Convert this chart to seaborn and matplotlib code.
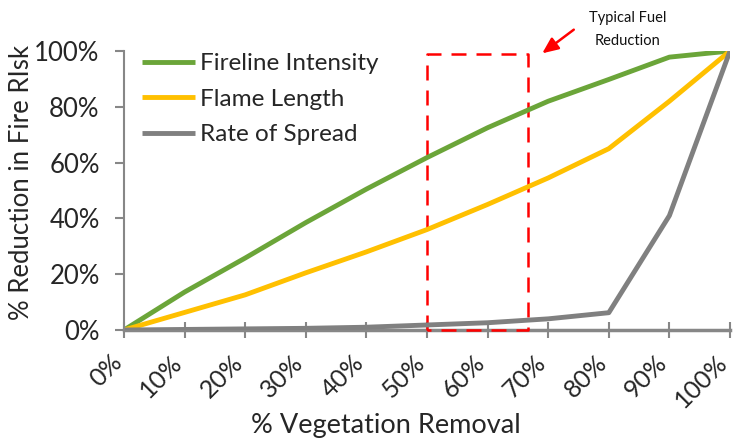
import matplotlib
matplotlib.use("Agg")
import matplotlib.pyplot as plt
import matplotlib.transforms as mtransforms
import seaborn as sns
import pandas as pd

removal = [0, 10, 20, 30, 40, 50, 60, 70, 80, 90, 100]
fireline_intensity = [0, 13.6, 25.8, 38.5, 50.5, 61.8, 72.5, 82, 89.8, 97.8, 100]
flame_length = [0, 6.3, 12.6, 20.5, 28, 36, 45, 54.5, 65, 82, 100]
rate_of_spread = [0, 0.2, 0.4, 0.6, 1.0, 1.8, 2.6, 4.0, 6.2, 41, 100]
series_names = ["Fireline Intensity", "Flame Length", "Rate of Spread"]
colors = ["#6BA539", "#FFC000", "#808080"]
x_ticks = [0, 10, 20, 30, 40, 50, 60, 70, 80, 90, 100]
y_ticks = [0, 20, 40, 60, 80, 100]
box_x = [50, 66.7]
box_y = [0, 99]

sns.set_theme(style="white")
plt.rcParams["font.family"] = ["Lato", "DejaVu Sans"]

df = pd.DataFrame({
    "x": removal * 3,
    "y": fireline_intensity + flame_length + rate_of_spread,
    "series": [series_names[0]] * 11 + [series_names[1]] * 11 + [series_names[2]] * 11,
})

fig = plt.figure(figsize=(7.36, 4.41), dpi=100)
ax = fig.add_axes([124 / 736, 1 - 330 / 441, (730 - 124) / 736, (330 - 51) / 441])

sns.lineplot(data=df, x="x", y="y", hue="series", palette=colors, linewidth=3.5,
             ax=ax, legend=True, solid_capstyle="butt")

# red dashed box
ax.plot([box_x[0], box_x[0], box_x[1], box_x[1], box_x[0]],
        [box_y[0], box_y[1], box_y[1], box_y[0], box_y[0]],
        color="#FF0000", linewidth=1.8, linestyle=(0, (6, 4)), clip_on=False, zorder=1)

ax.set_xlim(0, 100)
ax.set_ylim(0, 100)
ax.set_xticks(x_ticks)
ax.set_yticks(y_ticks)
ax.tick_params(axis="x", bottom=True, direction="inout", length=11, width=1.5,
               color="#878787", pad=15)
ax.tick_params(axis="y", left=True, direction="out", length=6.5, width=1.5,
               color="#878787", pad=11)
ax.set_xticklabels([f"{v}%" for v in x_ticks], rotation=45, ha="right", va="center",
                   rotation_mode="anchor", fontsize=18)
ax.set_yticklabels([f"{v}%" for v in y_ticks], fontsize=18.5)
offset = mtransforms.ScaledTranslation(-6 / 100, 0, fig.dpi_scale_trans)
for lab in ax.get_xticklabels():
    lab.set_transform(lab.get_transform() + offset)

ax.set_xlabel("% Vegetation Removal", fontsize=19.5)
ax.xaxis.set_label_coords((386 - 124) / 606, -(425 - 330) / 279)
ax.xaxis.label.set_va("center")
ax.set_ylabel("% Reduction in Fire RIsk", fontsize=18.5)
ax.yaxis.set_label_coords(-(124 - 22) / 606, (330 - 182) / 279)
ax.yaxis.label.set_va("center")

for s in ["top", "right"]:
    ax.spines[s].set_visible(False)
ax.spines["left"].set_color("#878787")
ax.spines["left"].set_linewidth(1.5)
ax.spines["bottom"].set_color("#878787")
ax.spines["bottom"].set_linewidth(2.5)
ax.spines["bottom"].set_zorder(0)

leg = ax.legend(loc="upper left", bbox_to_anchor=(142 / 736, 1 - 53 / 441),
                bbox_transform=fig.transFigure, frameon=False, fontsize=17.5,
                handlelength=2.2, handletextpad=0.2, labelspacing=0.6,
                borderpad=0, borderaxespad=0)
for line in leg.get_lines():
    line.set_linewidth(3.5)

fig.text(628 / 736, 1 - 18 / 441, "Typical Fuel", ha="center", va="center", fontsize=10.5, color="#111111")
fig.text(628 / 736, 1 - 41 / 441, "Reduction", ha="center", va="center", fontsize=10.5, color="#111111")
ax.annotate("", xy=(540 / 736, 1 - 55 / 441), xytext=(576 / 736, 1 - 28 / 441),
            xycoords="figure fraction", textcoords="figure fraction",
            arrowprops=dict(arrowstyle="-|>,head_length=0.8,head_width=0.35",
                            color="#FF0000", lw=1.8))

fig.savefig("out.png", dpi=100)
